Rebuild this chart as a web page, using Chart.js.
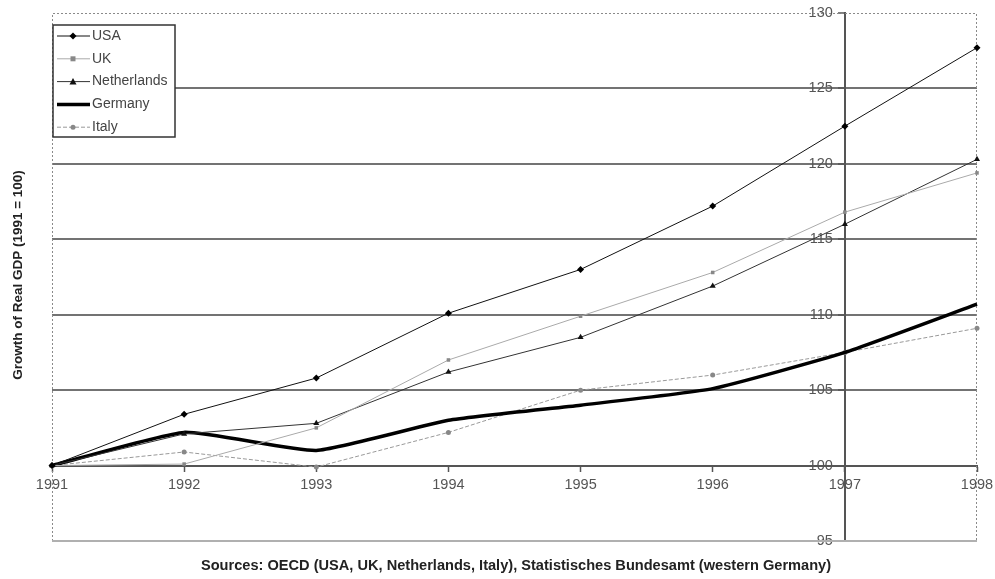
<!DOCTYPE html>
<html>
<head>
<meta charset="utf-8">
<script src="https://cdn.jsdelivr.net/npm/chart.js@4.4.0/dist/chart.umd.min.js"></script>
<style>
  html, body { margin: 0; padding: 0; background: #fff; }
  #wrap { position: relative; width: 995px; height: 579px; }
</style>
</head>
<body>
<div id="wrap"><canvas id="grafico" width="995" height="579"></canvas></div>
<script>
// datos (1991 = 100)
const years = ['1991', '1992', '1993', '1994', '1995', '1996', '1997', '1998'];
const usa = [100, 103.4, 105.8, 110.1, 113.0, 117.2, 122.5, 127.7];
const uk = [100, 100.1, 102.5, 107.0, 109.9, 112.8, 116.8, 119.4];
const netherlands = [100, 102.1, 102.8, 106.2, 108.5, 111.9, 116.0, 120.3];
const germany = [100, 102.2, 101.0, 103.0, 104.0, 105.1, 107.5, 110.7];
const italy = [100, 100.9, 99.9, 102.2, 105.0, 106.0, 107.5, 109.1];
const yTicks = [95, 100, 105, 110, 115, 120, 125, 130];

const tituloY = 'Growth of Real GDP (1991 = 100)';
const fuentes = 'Sources: OECD (USA, UK, Netherlands, Italy), Statistisches Bundesamt (western Germany)';

const fuente = '"Liberation Sans", Arial, sans-serif';

// dibuja un marcador simple (para la leyenda)
function marcador(ctx, estilo, x, y, r, color) {
  ctx.save();
  ctx.fillStyle = color;
  ctx.beginPath();
  if (estilo === 'rectRot') {
    ctx.moveTo(x, y - r); ctx.lineTo(x + r, y); ctx.lineTo(x, y + r); ctx.lineTo(x - r, y);
  } else if (estilo === 'rect') {
    ctx.rect(x - r, y - r, r * 2, r * 2);
  } else if (estilo === 'triangle') {
    ctx.moveTo(x, y - r); ctx.lineTo(x + r, y + r * 0.8); ctx.lineTo(x - r, y + r * 0.8);
  } else if (estilo === 'circle') {
    ctx.arc(x, y, r, 0, Math.PI * 2);
  }
  ctx.closePath();
  ctx.fill();
  ctx.restore();
}

const decoracion = {
  id: 'decoracion',
  beforeDatasetsDraw(chart) {
    const { ctx, chartArea: a } = chart;
    ctx.save();
    // marco punteado del area
    ctx.strokeStyle = '#8a8a8a';
    ctx.lineWidth = 1;
    ctx.setLineDash([2, 2]);
    ctx.beginPath();
    ctx.moveTo(a.left + 0.5, a.bottom); ctx.lineTo(a.left + 0.5, a.top + 0.5);
    ctx.lineTo(a.right - 0.5, a.top + 0.5); ctx.lineTo(a.right - 0.5, a.bottom);
    ctx.stroke();
    ctx.setLineDash([]);
    ctx.strokeStyle = '#b0b0b0';
    ctx.lineWidth = 2;
    ctx.beginPath();
    ctx.moveTo(a.left, a.bottom); ctx.lineTo(a.right, a.bottom);
    ctx.stroke();
    ctx.restore();
  },
  afterDraw(chart) {
    const { ctx } = chart;
    ctx.save();
    // titulo eje Y
    ctx.fillStyle = '#222';
    ctx.font = 'bold 13.5px ' + fuente;
    ctx.textAlign = 'center';
    ctx.textBaseline = 'middle';
    ctx.translate(18, 275);
    ctx.rotate(-Math.PI / 2);
    ctx.fillText(tituloY, 0, 0);
    ctx.restore();

    ctx.save();
    ctx.fillStyle = '#222';
    ctx.font = 'bold 14.6px ' + fuente;
    ctx.textAlign = 'center';
    ctx.textBaseline = 'middle';
    ctx.fillText(fuentes, 516, 566);
    ctx.restore();

    // leyenda dentro del area
    const lx = 53, ly = 25, lw = 122, lh = 112;
    ctx.save();
    ctx.fillStyle = '#fff';
    ctx.fillRect(lx, ly, lw, lh);
    ctx.strokeStyle = '#333';
    ctx.lineWidth = 1.5;
    ctx.strokeRect(lx, ly, lw, lh);
    ctx.font = '14px ' + fuente;
    ctx.textBaseline = 'middle';
    chart.data.datasets.forEach((ds, i) => {
      const y = ly + 11 + i * 22.8;
      ctx.strokeStyle = ds.borderColor;
      ctx.lineWidth = ds.borderWidth;
      ctx.setLineDash(ds.borderDash || []);
      ctx.beginPath();
      ctx.moveTo(lx + 4, y); ctx.lineTo(lx + 37, y);
      ctx.stroke();
      ctx.setLineDash([]);
      if (ds.pointRadius > 0) marcador(ctx, ds.pointStyle, lx + 20, y, ds.pointRadius, ds.pointBackgroundColor);
      ctx.fillStyle = '#444';
      ctx.fillText(ds.label, lx + 39, y);
    });
    ctx.restore();
  }
};

new Chart(document.getElementById('grafico'), {
  type: 'line',
  data: {
    labels: years,
    datasets: [
      { label: 'USA', data: usa, borderColor: '#111', borderWidth: 1, pointStyle: 'rectRot', pointRadius: 3.5, pointBackgroundColor: '#000', pointBorderColor: '#000', pointBorderWidth: 0 },
      { label: 'UK', data: uk, borderColor: '#aaa', borderWidth: 1, pointStyle: 'rect', pointRadius: 2.5, pointBackgroundColor: '#888', pointBorderColor: '#888', pointBorderWidth: 0 },
      { label: 'Netherlands', data: netherlands, borderColor: '#333', borderWidth: 1, pointStyle: 'triangle', pointRadius: 3.5, pointBackgroundColor: '#111', pointBorderColor: '#111', pointBorderWidth: 0 },
      { label: 'Germany', data: germany, borderColor: '#000', borderWidth: 3.5, pointRadius: 0, tension: 0.15 },
      { label: 'Italy', data: italy, borderColor: '#999', borderWidth: 1, borderDash: [4, 2], pointStyle: 'circle', pointRadius: 2.5, pointBackgroundColor: '#888', pointBorderColor: '#888', pointBorderWidth: 0 }
    ]
  },
  options: {
    responsive: false,
    animation: false,
    devicePixelRatio: 1,
    layout: { padding: { left: 52, right: 18, top: 13, bottom: 38 } },
    plugins: {
      legend: { display: false },
      tooltip: { enabled: false }
    },
    scales: {
      x: {
        position: { y: 100 },
        offset: false,
        afterFit: (s) => { s.paddingLeft = 0; s.paddingRight = 0; },
        grid: { drawOnChartArea: false, tickLength: 5, tickColor: '#555', tickWidth: 1.5 },
        border: { color: '#555', width: 2 },
        ticks: { color: '#555', font: { size: 14.5, family: fuente }, padding: 6, maxRotation: 0, autoSkip: false }
      },
      y: {
        position: { x: 6 },
        min: 95, max: 130,
        afterFit: (s) => { s.paddingTop = 0; s.paddingBottom = 0; },
        afterBuildTicks: (s) => { s.ticks = yTicks.map(v => ({ value: v })); },
        grid: {
          color: (c) => (c.tick && (c.tick.value === 95 || c.tick.value === 130)) ? 'rgba(0,0,0,0)' : '#737373',
          lineWidth: 2, tickLength: 6, tickColor: '#555', tickWidth: 1.5
        },
        border: { color: '#555', width: 2 },
        ticks: { color: '#555', font: { size: 14.5, family: fuente }, autoSkip: false, callback: (v) => v + '   ' }
      }
    }
  },
  plugins: [decoracion]
});
</script>
</body>
</html>
